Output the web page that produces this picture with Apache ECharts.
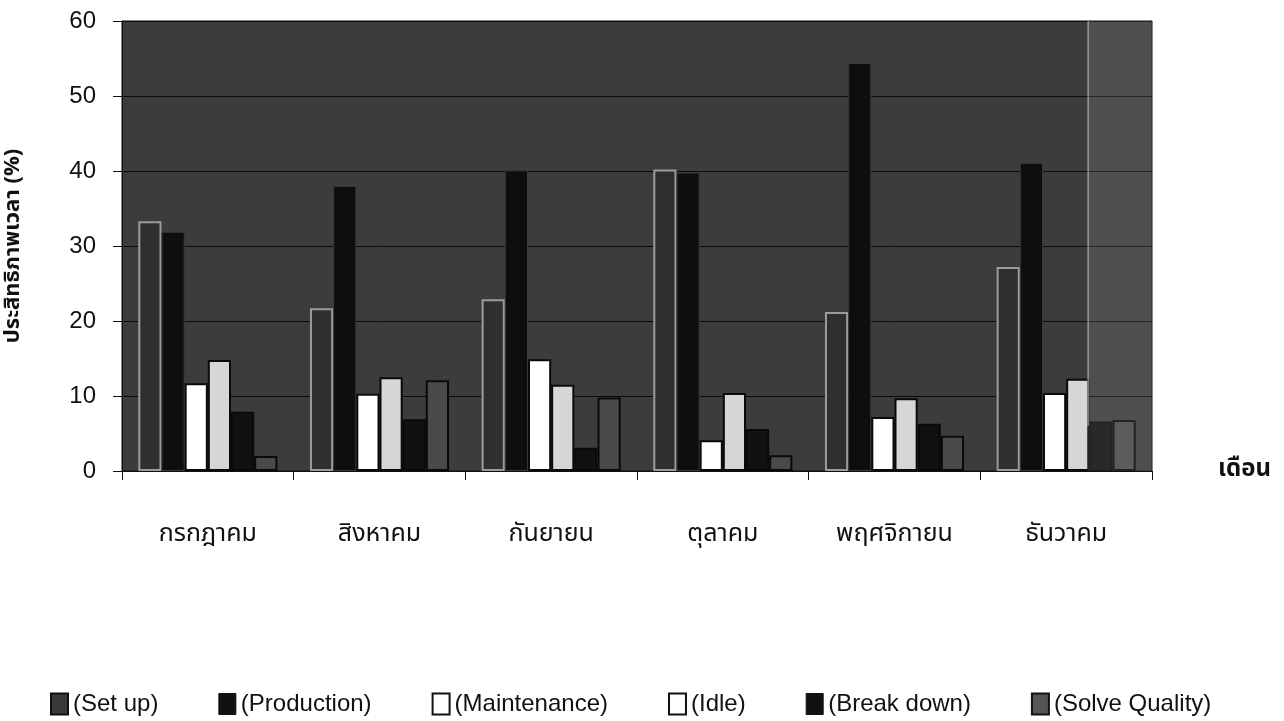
<!DOCTYPE html>
<html>
<head>
<meta charset="utf-8">
<script src="https://cdn.jsdelivr.net/npm/echarts@6/dist/echarts.min.js"></script>
<style>
  html, body { margin: 0; padding: 0; background: #ffffff; }
  #chart { width: 1284px; height: 721px; }
</style>
</head>
<body>
<div id="chart"></div>
<script>
// Months (July - December)
const months = ['กรกฎาคม', 'สิงหาคม', 'กันยายน', 'ตุลาคม', 'พฤศจิกายน', 'ธันวาคม'];
const yTicks = [0, 10, 20, 30, 40, 50, 60];

// Share of time per activity (%)
const setUp        = [33.3, 21.7, 22.9, 40.2, 21.2, 27.2];
const production   = [31.9, 38.0, 40.1, 39.8, 54.4, 41.1];
const maintenance  = [11.7, 10.3, 14.9, 4.1, 7.2, 10.4];
const idle         = [14.8, 12.5, 11.5, 10.4, 9.7, 12.3];
const breakDown    = [7.9, 6.9, 3.1, 5.6, 6.3, 6.6];
const solveQuality = [2.0, 12.1, 9.8, 2.1, 4.7, 6.8];

const seriesNames = ['(Set up)', '(Production)', '(Maintenance)', '(Idle)', '(Break down)', '(Solve Quality)'];
const seriesData = [setUp, production, maintenance, idle, breakDown, solveQuality];

const barStyles = [
  { color: '#2f2f2f', borderColor: '#9c9c9c', borderWidth: 2 },
  { color: '#0e0e0e', borderColor: '#3a3a3a', borderWidth: 1 },
  { color: '#ffffff', borderColor: '#0a0a0a', borderWidth: 2 },
  { color: '#d6d6d6', borderColor: '#0a0a0a', borderWidth: 2 },
  { color: '#111111', borderColor: '#0a0a0a', borderWidth: 2 },
  { color: '#4a4a4a', borderColor: '#0a0a0a', borderWidth: 2 }
];
const legendStyles = [
  { color: '#3a3a3a', borderColor: '#111', borderWidth: 2 },
  { color: '#111111', borderColor: '#111', borderWidth: 1 },
  { color: '#ffffff', borderColor: '#111', borderWidth: 2 },
  { color: '#ffffff', borderColor: '#111', borderWidth: 2 },
  { color: '#111111', borderColor: '#111', borderWidth: 1 },
  { color: '#555555', borderColor: '#111', borderWidth: 2 }
];

const thaiFont = '"Noto Sans Thai", "Noto Sans", "DejaVu Sans", sans-serif';
const latinFont = 'Arial, "Liberation Sans", sans-serif';

const chart = echarts.init(document.getElementById('chart'), null, { renderer: 'canvas' });

const option = {
  backgroundColor: '#ffffff',
  animation: false,
  grid: {
    left: 122, right: 132, top: 21, bottom: 250,
    outerBoundsMode: 'none',
    containLabel: false,
    show: true,
    backgroundColor: '#3c3c3c',
    borderColor: '#111111',
    borderWidth: 1
  },
  legend: {
    bottom: 0,
    left: 45,
    itemGap: 60,
    itemWidth: 17,
    itemHeight: 21,
    icon: 'rect',
    textStyle: { fontFamily: latinFont, fontSize: 24, color: '#111' },
    data: seriesNames.map((n, i) => ({ name: n, itemStyle: legendStyles[i] }))
  },
  xAxis: {
    type: 'category',
    data: months,
    name: 'เดือน',
    nameLocation: 'end',
    nameGap: 66,
    nameTextStyle: { fontFamily: thaiFont, fontSize: 24, fontWeight: 'bold', color: '#111', verticalAlign: 'middle' },
    axisLine: { lineStyle: { color: '#111', width: 1 } },
    axisTick: { show: true, length: 9, lineStyle: { color: '#111' } },
    axisLabel: { margin: 52, fontFamily: thaiFont, fontSize: 25, color: '#111' }
  },
  yAxis: {
    type: 'value',
    min: yTicks[0],
    max: yTicks[yTicks.length - 1],
    interval: 10,
    name: 'ประสิทธิภาพเวลา (%)',
    nameLocation: 'middle',
    nameRotate: 90,
    nameGap: 96,
    nameTextStyle: { fontFamily: thaiFont, fontSize: 22, fontWeight: 'bold', color: '#111' },
    axisLine: { show: true, lineStyle: { color: '#111', width: 1 } },
    axisTick: { show: true, length: 9, lineStyle: { color: '#111' } },
    axisLabel: { margin: 26, fontFamily: latinFont, fontSize: 24, color: '#111' },
    splitLine: { show: true, lineStyle: { color: '#0c0c0c', width: 1 } }
  },
  series: seriesData.map((d, i) => ({
    name: seriesNames[i],
    type: 'bar',
    data: d,
    barGap: '0%',
    barCategoryGap: '19%',
    itemStyle: barStyles[i]
  }))
};

chart.setOption(option);

// Lighter band along the right edge of the plot area
const grid = chart.getModel().getComponent('grid').coordinateSystem.getRect();
const bandLeft = grid.x + grid.width * 0.938;
chart.setOption({
  graphic: [
    {
      type: 'rect',
      silent: true,
      z: 100,
      shape: { x: bandLeft, y: grid.y, width: grid.x + grid.width - bandLeft, height: grid.height },
      style: { fill: 'rgba(255,255,255,0.10)' }
    },
    {
      type: 'line',
      silent: true,
      z: 101,
      shape: { x1: bandLeft, y1: grid.y, x2: bandLeft, y2: grid.y + grid.height * 0.9 },
      style: { stroke: 'rgba(220,220,220,0.55)', lineWidth: 1.5 }
    }
  ]
});
</script>
</body>
</html>
